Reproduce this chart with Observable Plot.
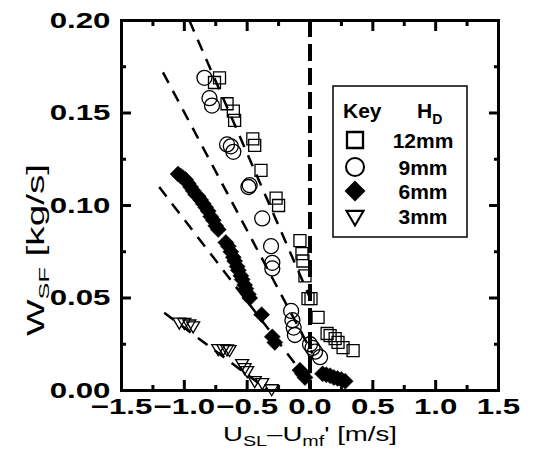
<!DOCTYPE html>
<html><head><meta charset="utf-8">
<script src="https://cdn.jsdelivr.net/npm/d3@7"></script>
<script src="https://cdn.jsdelivr.net/npm/@observablehq/plot@0.6"></script>
<style>
body{margin:0;background:#fff;}
#wrap{position:relative;width:535px;height:465px;font-family:"Liberation Sans",Arial,sans-serif;}
</style></head><body><div id="wrap"></div>
<script>
// ---------- data ----------
const seriesKeys = ["12mm", "9mm", "6mm", "3mm"];

const x12 = [-0.76,-0.72,-0.66,-0.61,-0.60,-0.455,-0.44,-0.39,-0.27,-0.25,-0.08,-0.064,-0.056,-0.04,-0.016,0.008,0.064,0.136,0.16,0.20,0.223,0.263,0.343];
const y12 = [0.1665,0.169,0.155,0.151,0.146,0.136,0.1325,0.119,0.104,0.100,0.081,0.074,0.070,0.062,0.0497,0.0497,0.0395,0.0308,0.0297,0.028,0.026,0.0232,0.0216];

const x9 = [-0.84,-0.80,-0.78,-0.66,-0.63,-0.61,-0.49,-0.48,-0.38,-0.31,-0.30,-0.30,-0.15,-0.14,-0.13,-0.12,0.0,0.02,0.04,0.08];
const y9 = [0.169,0.158,0.154,0.133,0.132,0.129,0.110,0.111,0.093,0.078,0.069,0.066,0.043,0.038,0.034,0.030,0.025,0.023,0.021,0.018];

const x6 = [-1.05,-1.03,-1.01,-0.99,-0.97,-0.95,-0.93,-0.91,-0.89,-0.87,-0.85,-0.83,-0.81,-0.79,-0.77,-0.75,-0.73,
            -0.67,-0.65,-0.63,-0.61,-0.60,-0.58,-0.57,-0.55,-0.54,-0.52,-0.51,-0.49,-0.48,
            -0.385,-0.30,-0.28,-0.08,-0.06,-0.04,
            0.10,0.13,0.16,0.19,0.22,0.25,0.28];
const y6 = [0.117,0.116,0.115,0.114,0.112,0.110,0.108,0.106,0.105,0.103,0.101,0.099,0.097,0.094,0.092,0.089,0.087,
            0.080,0.078,0.075,0.072,0.070,0.067,0.065,0.062,0.060,0.057,0.055,0.052,0.050,
            0.041,0.029,0.026,0.011,0.009,0.007,
            0.009,0.0085,0.008,0.007,0.0065,0.006,0.005];

const x3 = [-1.04,-1.00,-0.96,-0.93,-0.73,-0.69,-0.66,-0.64,-0.54,-0.52,-0.50,-0.44,-0.38,-0.305];
const y3 = [0.037,0.0368,0.036,0.035,0.0227,0.0227,0.0225,0.0222,0.0146,0.0124,0.0108,0.0054,0.0043,0.001];

// dashed correlation lines (one per series)
const fitX1 = [-0.96, -1.17, -1.20, -1.16];
const fitY1 = [0.200, 0.172, 0.110, 0.042];
const fitX2 = [0.0, 0.02, 0.0, -0.33];
const fitY2 = [0.050, 0.020, 0.004, 0.0];

const xMajor = [-1.5, -1.0, -0.5, 0.0, 0.5, 1.0, 1.5];
const xMinor = [-1.25, -0.75, -0.25, 0.25, 0.75, 1.25];
const yMajor = [0.00, 0.05, 0.10, 0.15, 0.20];
const yMinor = [0.025, 0.075, 0.125, 0.175];

// ---------- build ----------
const seriesX = [x12, x9, x6, x3], seriesY = [y12, y9, y6, y3];
const pts = seriesKeys.flatMap((k, i) => seriesX[i].map((x, j) => ({k, x, y: seriesY[i][j]})));
const fits = seriesKeys.map((k, i) => ({k, x1: fitX1[i], y1: fitY1[i], x2: fitX2[i], y2: fitY2[i]}));

const rOf = (size) => Math.sqrt(size / Math.PI);
const symSquare = {draw(c, size) { const s = rOf(size); c.rect(-s, -s, 2 * s, 2 * s); }};
const symDiamond = {draw(c, size) { const s = rOf(size); c.moveTo(0, -s); c.lineTo(s, 0); c.lineTo(0, s); c.lineTo(-s, 0); c.closePath(); }};
const symTriDown = {draw(c, size) { const s = rOf(size); c.moveTo(-s, -0.6 * s); c.lineTo(s, -0.6 * s); c.lineTo(0, 1.1 * s); c.closePath(); }};
const symCircle = {draw(c, size) { const s = rOf(size); c.moveTo(s, 0); c.arc(0, 0, s, 0, 2 * Math.PI); }};

const sel = (k) => pts.filter(d => d.k === k);
const tickText = {fontSize: 22, fontWeight: "bold"};

const chart = Plot.plot({
  width: 535, height: 465,
  marginTop: 20, marginRight: 37, marginBottom: 75, marginLeft: 121,
  style: {fontFamily: '"Liberation Sans", Arial, sans-serif', background: "white", color: "black", overflow: "visible"},
  x: {domain: [-1.5, 1.5], axis: null},
  y: {domain: [0, 0.2], axis: null},
  marks: [
    Plot.link(fits, {x1: "x1", y1: "y1", x2: "x2", y2: "y2", stroke: "black", strokeWidth: 2.5, strokeDasharray: "12,9"}),
    Plot.ruleX([0], {stroke: "black", strokeWidth: 4, strokeDasharray: "17,7"}),
    Plot.dot(sel("6mm"), {x: "x", y: "y", symbol: symDiamond, r: 8, fill: "black", stroke: "black", strokeWidth: 0.5}),
    Plot.dot(sel("12mm"), {x: "x", y: "y", symbol: symSquare, r: 6, fill: "none", stroke: "black", strokeWidth: 1.3}),
    Plot.dot(sel("9mm"), {x: "x", y: "y", symbol: symCircle, r: 7.5, fill: "none", stroke: "black", strokeWidth: 1.3}),
    Plot.dot(sel("3mm"), {x: "x", y: "y", symbol: symTriDown, r: 6.5, fill: "none", stroke: "black", strokeWidth: 1.3}),
    Plot.frame({stroke: "black", strokeWidth: 3}),
    Plot.axisX(xMajor, {anchor: "bottom", tickSize: -10, strokeWidth: 3, fill: "none", label: null}),
    Plot.axisX(xMajor, {anchor: "top", tickSize: -10, strokeWidth: 3, fill: "none", label: null}),
    Plot.axisX(xMinor, {anchor: "bottom", tickSize: -5, strokeWidth: 3, fill: "none", label: null}),
    Plot.axisX(xMinor, {anchor: "top", tickSize: -5, strokeWidth: 3, fill: "none", label: null}),
    Plot.axisY(yMajor, {anchor: "left", tickSize: -10, strokeWidth: 3, fill: "none", label: null}),
    Plot.axisY(yMajor, {anchor: "right", tickSize: -10, strokeWidth: 3, fill: "none", label: null}),
    Plot.axisY(yMinor, {anchor: "left", tickSize: -5, strokeWidth: 3, fill: "none", label: null}),
    Plot.axisY(yMinor, {anchor: "right", tickSize: -5, strokeWidth: 3, fill: "none", label: null}),
    Plot.axisX(xMajor, {anchor: "bottom", tickSize: 0, tickPadding: 8, tickFormat: d3.format(".1f"), label: null, ...tickText}),
    Plot.axisY(yMajor, {anchor: "left", tickSize: 0, tickPadding: 11, tickFormat: d3.format(".2f"), label: null, ...tickText})
  ]
});

const wrap = document.getElementById("wrap");
wrap.appendChild(chart);
const svg = d3.select(chart);

// widen tick labels like the reference's typeface
svg.selectAll('g[aria-label="x-axis tick label"] text, g[aria-label="y-axis tick label"] text').each(function() {
  const L = this.getComputedTextLength();
  this.setAttribute("textLength", L * 1.42);
  this.setAttribute("lengthAdjust", "spacingAndGlyphs");
});

// axis titles with subscripts
const xt = svg.append("text").attr("x", 310).attr("y", 441).attr("text-anchor", "middle")
  .attr("font-size", 21).attr("fill", "black");
xt.append("tspan").text("U");
xt.append("tspan").attr("font-size", 15).attr("dy", 5).text("SL");
xt.append("tspan").attr("dy", -5).text("–U");
xt.append("tspan").attr("font-size", 15).attr("dy", 5).text("mf");
xt.append("tspan").attr("dy", -5).text("' [m/s]");
xt.attr("textLength", 174).attr("lengthAdjust", "spacingAndGlyphs");

const yt = svg.append("text").attr("transform", "translate(44,250) rotate(-90)").attr("text-anchor", "middle")
  .attr("font-size", 23).attr("fill", "black");
yt.append("tspan").text("W");
yt.append("tspan").attr("font-size", 15).attr("dy", 5).text("SF");
yt.append("tspan").attr("dy", -5).text(" [kg/s]");
yt.attr("textLength", 172).attr("lengthAdjust", "spacingAndGlyphs");

// legend (inside plot area, as in the reference)
const legSyms = [symSquare, symCircle, symDiamond, symTriDown];
const legFill = ["none", "none", "black", "none"];
const legR = [8, 10, 10, 9.5];
const leg = d3.select(wrap).append("svg").attr("width", 137).attr("height", 154)
  .style("position", "absolute").style("left", "332px").style("top", "85px")
  .attr("font-family", '"Liberation Sans", Arial, sans-serif');
leg.append("rect").attr("x", 1).attr("y", 1).attr("width", 134).attr("height", 151)
  .attr("fill", "white").attr("stroke", "black").attr("stroke-width", 1.5);
leg.append("text").attr("x", 11).attr("y", 33).attr("font-size", 21).attr("font-weight", "bold").text("Key");
const hd = leg.append("text").attr("x", 85).attr("y", 33).attr("font-size", 21).attr("font-weight", "bold");
hd.append("tspan").text("H");
hd.append("tspan").attr("font-size", 14).attr("dy", 6).text("D");
seriesKeys.forEach((k, i) => {
  const cy = [55, 82, 106, 131][i];
  const p = d3.path();
  legSyms[i].draw(p, Math.PI * legR[i] * legR[i]);
  leg.append("path").attr("d", p.toString()).attr("transform", `translate(23,${cy}) scale(${i === 0 ? 1 : 0.9})`)
    .attr("fill", legFill[i]).attr("stroke", "black").attr("stroke-width", 2.3);
  leg.append("text").attr("x", 91).attr("y", cy + 8).attr("text-anchor", "middle")
    .attr("font-size", 21).attr("font-weight", "bold").text(k);
});
</script></body></html>
